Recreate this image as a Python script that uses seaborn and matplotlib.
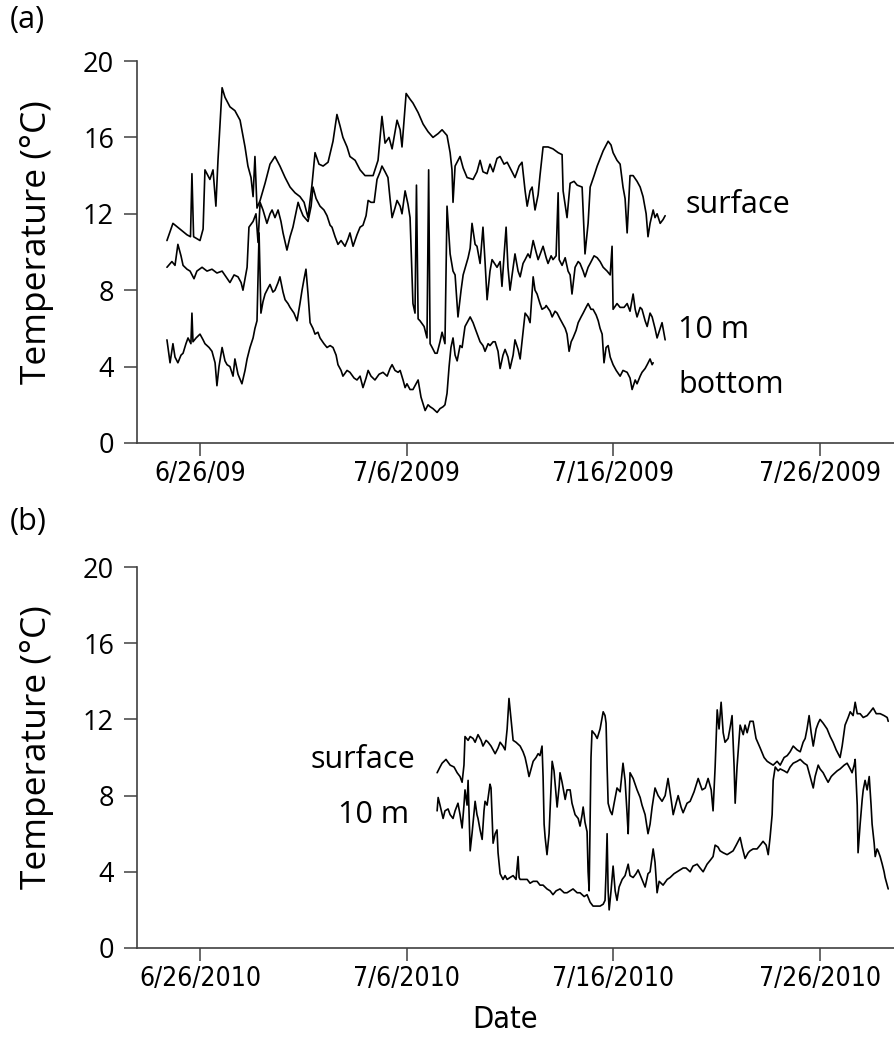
import numpy as np
import pandas as pd
import matplotlib
matplotlib.use("Agg")
import matplotlib.pyplot as plt
import seaborn as sns

# ---------------- data (days after 26 June, temperature in °C) ----------------
surf09_day = [-1.60,-1.31,-0.97,-0.63,-0.46,-0.39,-0.31,0.00,0.15,0.24,0.48,0.63,0.77,0.87,1.07,1.21,1.45,1.69,1.94,2.18,
              2.32,2.47,2.57,2.66,2.76,2.91,3.15,3.39,3.63,3.87,4.12,4.36,4.60,4.84,5.04,5.23,5.42,5.57,5.76,5.96,
              6.20,6.44,6.63,6.78,6.92,7.12,7.26,7.51,7.75,7.99,8.38,8.62,8.81,8.96,9.15,9.30,9.54,9.69,9.78,9.98,
              10.17,10.31,10.56,10.80,11.04,11.28,11.53,11.72,11.96,12.11,12.20,12.25,12.35,12.59,12.74,12.93,13.22,13.41,13.56,13.70,
              13.90,14.04,14.19,14.38,14.53,14.72,14.87,15.06,15.25,15.45,15.59,15.74,15.84,15.98,16.08,16.22,16.37,16.46,16.61,16.85,
              17.09,17.34,17.53,17.58,17.77,17.92,18.11,18.26,18.50,18.64,18.79,18.89,19.08,19.23,19.52,19.76,19.90,20.00,20.19,20.34,
              20.48,20.58,20.68,20.82,20.97,21.16,21.31,21.45,21.60,21.69,21.79,21.94,22.03,22.13,22.28,22.42,22.52]
surf09_temp = [10.6,11.5,11.2,10.9,10.8,14.1,10.8,10.6,11.2,14.3,13.8,14.3,12.4,14.8,18.6,18.1,17.6,17.4,16.9,15.5,
               14.5,13.9,12.9,15.0,12.3,12.7,13.6,14.6,15.0,14.5,13.9,13.4,13.1,12.9,12.6,11.8,13.5,15.2,14.6,14.5,
               14.7,15.8,17.2,16.6,16.0,15.5,15.0,14.8,14.3,14.0,14.0,14.8,17.1,15.7,16.0,15.4,16.9,16.4,15.5,18.3,
               18.0,17.8,17.3,16.7,16.3,16.0,16.2,16.4,16.1,15.2,14.3,12.6,14.5,15.0,14.4,13.9,13.8,14.2,14.8,14.2,
               14.1,14.6,14.2,14.9,15.0,14.6,14.7,14.3,13.9,14.5,14.7,13.2,12.4,13.2,13.4,12.2,13.0,14.0,15.5,15.5,
               15.4,15.2,15.1,13.2,11.8,13.6,13.7,13.5,13.4,9.9,11.5,13.4,14.0,14.5,15.3,15.8,15.6,15.2,14.8,14.6,
               13.4,12.8,11.0,14.0,14.0,13.7,13.4,12.9,12.0,10.8,11.5,12.2,11.8,12.0,11.5,11.7,11.9]

m10_09_day = [-1.60,-1.36,-1.21,-1.07,-0.92,-0.82,-0.63,-0.48,-0.29,-0.15,0.10,0.34,0.58,0.82,1.07,1.26,1.45,1.65,1.84,1.99,
              2.08,2.28,2.37,2.57,2.71,2.81,2.91,3.05,3.24,3.39,3.49,3.63,3.78,3.92,4.02,4.21,4.36,4.50,4.75,4.84,
              4.99,5.23,5.38,5.47,5.62,5.81,6.00,6.15,6.30,6.39,6.54,6.68,6.83,7.02,7.17,7.26,7.41,7.60,7.75,7.89,
              8.04,8.14,8.28,8.43,8.57,8.72,8.81,8.96,9.10,9.20,9.30,9.44,9.54,9.69,9.78,9.93,10.07,10.17,10.27,10.31,
              10.41,10.48,10.56,10.65,10.85,10.99,11.07,11.14,11.24,11.38,11.48,11.62,11.72,11.86,11.96,12.11,12.25,12.35,12.49,12.64,
              12.74,12.98,13.08,13.17,13.32,13.41,13.56,13.70,13.80,13.90,14.04,14.14,14.38,14.53,14.62,14.72,14.82,14.91,15.01,15.16,
              15.25,15.40,15.50,15.64,15.74,15.88,15.98,16.13,16.27,16.37,16.51,16.61,16.76,16.85,17.00,17.09,17.24,17.34,17.39,17.53,
              17.68,17.82,17.92,18.01,18.16,18.31,18.40,18.55,18.64,18.79,18.89,19.08,19.23,19.37,19.52,19.71,19.86,19.95,20.00,20.19,
              20.34,20.53,20.68,20.82,20.97,21.07,21.16,21.31,21.40,21.55,21.65,21.79,21.89,22.03,22.13,22.28,22.37,22.52]
m10_09_temp = [9.2,9.5,9.3,10.4,9.8,9.3,9.1,9.0,8.6,9.0,9.2,9.0,9.1,8.9,9.0,8.7,8.4,8.8,8.7,8.4,
               8.0,9.2,11.3,11.6,12.0,10.5,12.6,12.2,11.5,12.0,12.2,11.8,12.2,11.6,11.0,10.1,10.8,11.3,12.6,12.3,
               11.9,11.6,12.4,13.4,12.8,12.4,12.2,11.9,11.4,11.3,10.8,10.4,10.6,10.3,10.7,11.0,10.3,10.9,11.3,11.4,
               11.9,12.7,12.6,12.6,13.8,14.2,14.5,14.2,13.9,12.8,11.8,12.3,12.7,12.4,12.0,13.2,12.5,11.8,8.5,7.3,
               6.8,13.5,6.5,6.4,6.1,5.5,14.3,5.2,5.0,4.7,4.7,5.3,5.8,5.2,12.4,9.9,9.0,8.8,6.6,8.0,
               8.8,9.7,10.2,11.5,10.4,10.3,9.4,11.3,9.5,7.5,9.0,9.6,9.2,9.5,8.2,9.8,11.3,9.2,8.0,9.2,
               9.9,9.0,8.7,9.4,9.6,9.9,9.7,10.6,10.0,9.6,10.0,10.3,9.7,9.4,9.8,9.6,9.8,13.1,9.6,9.3,
               9.7,9.0,8.8,7.8,9.2,9.5,9.4,9.0,8.7,9.2,9.4,9.8,9.7,9.5,9.2,9.0,8.8,10.3,7.0,7.3,
               7.1,7.1,7.3,6.9,7.8,7.0,6.6,7.1,7.0,6.4,6.1,6.8,6.6,6.0,5.5,6.0,6.3,5.4]

bot09_day = [-1.60,-1.50,-1.45,-1.31,-1.21,-1.07,-0.92,-0.82,-0.68,-0.58,-0.44,-0.39,-0.34,-0.19,0.00,0.15,0.24,0.44,0.58,0.73,
             0.82,0.92,1.07,1.21,1.31,1.45,1.60,1.69,1.84,2.03,2.18,2.28,2.42,2.57,2.66,2.76,2.86,2.95,3.05,3.15,
             3.29,3.39,3.53,3.63,3.78,3.87,4.02,4.12,4.26,4.36,4.55,4.70,4.84,4.94,5.04,5.13,5.23,5.33,5.47,5.57,
             5.71,5.81,6.00,6.15,6.30,6.44,6.59,6.68,6.83,6.92,7.12,7.26,7.46,7.60,7.75,7.89,8.04,8.14,8.28,8.47,
             8.67,8.86,9.06,9.20,9.30,9.44,9.59,9.69,9.83,9.93,10.02,10.17,10.31,10.41,10.56,10.70,10.90,11.04,11.14,11.28,
             11.48,11.62,11.77,11.86,11.96,12.06,12.15,12.25,12.35,12.45,12.59,12.69,12.83,12.98,13.08,13.22,13.32,13.46,13.56,13.70,
             13.80,13.95,14.04,14.19,14.29,14.43,14.53,14.67,14.77,14.91,15.01,15.16,15.25,15.40,15.50,15.64,15.74,15.88,15.98,16.13,
             16.22,16.32,16.46,16.56,16.71,16.76,16.95,17.05,17.19,17.29,17.43,17.53,17.68,17.77,17.87,17.97,18.06,18.21,18.31,18.45,
             18.55,18.69,18.79,18.93,19.03,19.18,19.28,19.37,19.47,19.56,19.66,19.76,19.86,20.00,20.15,20.34,20.48,20.68,20.82,20.92,
             21.07,21.16,21.31,21.40,21.55,21.65,21.79,21.89,21.94]
bot09_temp = [5.4,4.6,4.2,5.2,4.5,4.2,4.6,4.7,5.2,5.5,5.2,6.8,5.3,5.5,5.7,5.4,5.2,5.0,4.8,4.2,
              3.0,4.0,5.0,4.3,4.1,4.0,3.5,4.4,3.6,3.1,3.8,4.4,5.0,5.5,6.0,6.4,11.0,6.8,7.4,7.8,
              8.1,8.3,7.9,8.0,8.4,8.7,7.9,7.5,7.3,7.1,6.8,6.4,7.3,8.0,8.6,9.1,7.8,6.3,6.0,5.7,
              5.8,5.5,5.2,5.0,5.1,5.0,4.6,4.1,3.8,3.5,3.8,3.7,3.4,3.3,3.5,2.9,3.4,3.8,3.5,3.3,
              3.6,3.7,3.5,3.9,4.1,3.8,3.7,3.8,3.3,2.9,3.1,2.8,2.8,3.0,3.3,2.4,1.7,2.0,1.9,1.8,
              1.6,1.8,1.9,2.0,2.6,4.0,5.0,5.5,4.6,4.3,5.1,5.0,6.1,6.4,6.6,6.3,6.0,5.6,5.3,5.1,
              4.8,5.2,5.1,5.3,5.3,4.8,3.9,4.6,4.9,4.5,3.9,4.6,5.4,4.9,4.4,5.8,6.8,6.6,6.3,8.7,
              8.0,7.8,7.3,7.0,7.1,7.2,6.9,6.6,6.9,6.8,6.5,6.3,6.0,5.7,4.8,5.3,5.5,5.9,6.3,6.6,
              6.8,7.1,7.3,7.0,7.0,6.7,6.4,6.0,5.7,4.2,5.0,5.1,4.5,4.1,3.8,3.5,3.8,3.7,3.4,2.8,
              3.3,3.1,3.5,3.7,3.9,4.1,4.4,4.1,4.2]

surf10_day = [11.48,11.62,11.72,11.91,12.11,12.30,12.45,12.59,12.69,12.78,12.83,12.98,13.08,13.22,13.32,13.46,13.61,13.70,13.85,13.95,
              14.09,14.29,14.43,14.53,14.67,14.77,14.87,14.96,15.06,15.16,15.30,15.50,15.64,15.74,15.84,15.93,16.03,16.13,16.27,16.37,
              16.46,16.56,16.61,16.66,16.71,16.80,16.90,17.00,17.05,17.14,17.24,17.29,17.39,17.43,17.53,17.68,17.77,17.92,18.01,18.16,
              18.31,18.40,18.50,18.55,18.64,18.74,18.79,18.84,18.89,18.93,18.98,19.13,19.23,19.37,19.52,19.61,19.66,19.71,19.76,19.86,
              19.95,20.05,20.19,20.34,20.48,20.58,20.68,20.73,20.82,20.97,21.16,21.31,21.40,21.55,21.69,21.79,21.89,22.03,22.18,22.37,
              22.52,22.66,22.81,22.91,23.05,23.15,23.29,23.39,23.58,23.73,23.92,24.12,24.31,24.46,24.60,24.75,24.84,24.94,25.04,25.13,
              25.23,25.33,25.42,25.57,25.67,25.76,25.86,25.91,26.00,26.15,26.30,26.39,26.49,26.63,26.78,26.92,27.12,27.31,27.46,27.60,
              27.75,27.94,28.09,28.28,28.43,28.57,28.72,28.91,29.06,29.20,29.30,29.39,29.49,29.59,29.69,29.83,29.93,30.02,30.17,30.36,
              30.51,30.65,30.80,30.99,31.09,31.23,31.38,31.48,31.62,31.72,31.82,31.96,32.11,32.30,32.45,32.59,32.74,32.93,33.12,33.27,
              33.32]
surf10_temp = [9.2,9.5,9.7,9.9,9.6,9.5,9.2,9.0,8.7,9.6,11.1,10.9,11.1,11.0,10.8,11.2,10.9,10.6,10.9,10.8,
               10.6,10.2,10.5,10.8,10.6,10.4,11.5,13.1,12.0,10.9,10.8,10.6,10.3,10.0,9.5,9.0,9.4,9.8,10.0,10.2,
               10.1,10.6,9.0,6.5,5.8,4.9,6.0,8.5,9.8,9.3,8.0,7.4,8.5,9.2,8.7,7.8,8.3,8.3,7.6,7.0,
               6.8,6.4,7.0,7.4,6.6,6.1,4.0,3.0,7.0,10.0,11.4,11.2,11.0,11.5,12.4,12.2,11.8,9.5,7.6,7.2,
               7.0,7.6,8.4,8.2,9.7,8.8,7.0,6.0,9.2,8.9,8.3,7.9,7.5,7.0,6.0,6.5,7.4,8.4,8.0,7.7,
               8.0,8.9,7.8,7.0,7.6,8.0,7.4,7.1,7.6,7.7,8.2,8.9,8.3,8.4,8.9,8.3,7.2,9.5,12.5,11.5,
               12.9,11.3,10.8,11.0,11.6,12.2,9.5,7.6,9.5,11.7,11.2,11.7,11.3,11.9,11.9,11.0,10.5,10.0,9.8,9.7,
               9.6,9.8,9.6,10.0,10.1,10.3,10.6,10.4,10.3,10.8,11.0,11.5,12.2,11.3,10.6,11.5,11.8,12.0,11.8,11.5,
               11.1,10.8,10.4,10.0,10.6,11.7,12.1,12.4,12.2,12.9,12.3,12.3,12.1,12.2,12.4,12.6,12.3,12.3,12.2,12.1,
               11.9]

m10_10_day = [11.48,11.53,11.62,11.77,11.86,12.01,12.11,12.25,12.35,12.49,12.59,12.69,12.78,12.83,12.93,12.98,13.08,13.17,13.32,13.41,
              13.46,13.56,13.66,13.75,13.80,13.90,14.04,14.09,14.19,14.29,14.38,14.43,14.53,14.67,14.77,14.87,15.01,15.16,15.30,15.40,
              15.45,15.50,15.69,15.84,15.98,16.13,16.32,16.46,16.61,16.80,16.95,17.09,17.24,17.43,17.63,17.77,17.92,18.06,18.26,18.40,
              18.60,18.74,18.89,19.03,19.23,19.37,19.52,19.61,19.66,19.71,19.76,19.81,19.90,20.00,20.10,20.19,20.29,20.44,20.58,20.73,
              20.82,20.97,21.11,21.21,21.36,21.55,21.69,21.79,21.89,21.94,22.03,22.13,22.23,22.42,22.62,22.76,22.95,23.10,23.24,23.39,
              23.53,23.73,23.87,24.07,24.21,24.36,24.55,24.70,24.84,24.94,25.08,25.18,25.33,25.52,25.67,25.81,25.96,26.15,26.25,26.39,
              26.54,26.63,26.78,26.97,27.12,27.26,27.41,27.51,27.60,27.70,27.75,27.85,27.99,28.09,28.28,28.43,28.57,28.72,28.91,29.06,
              29.25,29.39,29.54,29.69,29.78,29.93,30.02,30.17,30.31,30.41,30.56,30.65,30.85,30.99,31.19,31.33,31.48,31.57,31.67,31.72,
              31.82,31.86,31.96,32.06,32.11,32.20,32.30,32.40,32.49,32.54,32.64,32.69,32.78,32.83,32.93,33.03,33.12,33.17,33.27,33.32]
m10_10_temp = [7.2,7.9,7.5,6.8,7.2,7.3,7.0,6.8,7.2,7.6,7.0,6.3,7.5,8.3,7.5,8.8,5.1,6.0,7.7,7.0,
               6.8,6.2,5.7,7.2,7.7,7.5,8.6,8.4,5.5,6.0,6.2,5.0,3.9,3.6,3.8,3.6,3.7,3.8,3.6,4.8,
               3.7,3.6,3.6,3.6,3.4,3.5,3.5,3.3,3.3,3.1,3.0,2.8,3.0,3.1,2.9,2.9,3.0,3.1,2.9,2.9,
               2.7,2.8,2.4,2.2,2.2,2.2,2.3,2.5,4.0,6.0,3.0,2.0,3.0,4.3,3.0,2.5,3.2,3.6,3.8,4.4,
               3.8,3.7,3.9,4.1,3.7,3.2,3.9,4.0,4.8,5.2,4.5,2.9,3.5,3.3,3.6,3.7,3.9,4.0,4.1,4.2,
               4.2,4.0,4.3,4.4,4.2,4.0,4.4,4.6,4.8,5.4,5.3,5.1,5.0,4.9,5.0,5.1,5.4,5.8,5.3,4.7,
               5.0,5.1,5.2,5.2,5.4,5.6,5.4,4.9,5.8,7.0,8.8,9.5,9.3,9.4,9.3,9.2,9.5,9.7,9.8,9.9,
               9.7,9.6,9.0,8.4,9.0,9.6,9.4,9.2,8.9,8.7,9.0,9.1,9.3,9.4,9.6,9.7,9.4,9.2,9.6,9.9,
               7.5,5.0,6.5,7.8,8.3,8.8,8.3,9.0,7.5,6.5,5.5,4.8,5.2,5.1,4.8,4.4,4.0,3.7,3.3,3.1]

tick_dates_09 = ["2009-06-26", "2009-07-06", "2009-07-16", "2009-07-26"]
tick_labels_09 = ["6/26/09", "7/6/2009", "7/16/2009", "7/26/2009"]
tick_dates_10 = ["2010-06-26", "2010-07-06", "2010-07-16", "2010-07-26"]
tick_labels_10 = ["6/26/2010", "7/6/2010", "7/16/2010", "7/26/2010"]
y_ticks = [0, 4, 8, 12, 16, 20]


def to_frame(base, days, temps):
    return pd.DataFrame({
        "date": pd.Timestamp(base) + pd.to_timedelta(np.array(days), unit="D"),
        "temp": temps,
    })


sns.set_style("white")
plt.rcParams["font.family"] = ["Open Sans", "DejaVu Sans"]
plt.rcParams["text.color"] = "black"
plt.rcParams["axes.labelcolor"] = "black"
plt.rcParams["xtick.color"] = "black"
plt.rcParams["ytick.color"] = "black"

W, H = 894, 1045
fig = plt.figure(figsize=(W / 100, H / 100), dpi=100)

def axes_from_px(left, top, right, bottom):
    return fig.add_axes([left / W, 1 - bottom / H, (right - left) / W, (bottom - top) / H])

ax_a = axes_from_px(137, 61, 894, 443)
ax_b = axes_from_px(137, 567, 894, 948)

narrow = dict(family="DejaVu Sans", stretch="condensed")
spine_col = "#404040"

panels = [
    (ax_a, "2009-06-26", [(surf09_day, surf09_temp), (m10_09_day, m10_09_temp), (bot09_day, bot09_temp)],
     tick_dates_09, tick_labels_09),
    (ax_b, "2010-06-26", [(surf10_day, surf10_temp), (m10_10_day, m10_10_temp)],
     tick_dates_10, tick_labels_10),
]

for ax, base, series, tdates, tlabels in panels:
    for d, t in series:
        sns.lineplot(data=to_frame(base, d, t), x="date", y="temp", ax=ax,
                     color="black", linewidth=1.2, estimator=None, sort=False)
    b = pd.Timestamp(base)
    ax.set_xlim(b + pd.to_timedelta(-3.05, unit="D"), b + pd.to_timedelta(33.6, unit="D"))
    ax.set_ylim(0, 20)
    ax.set_yticks(y_ticks)
    ax.set_yticklabels([str(v) for v in y_ticks], fontsize=19.5)
    ax.set_xticks([pd.Timestamp(s) for s in tdates])
    ax.set_xticklabels(tlabels, fontsize=19, **narrow)
    ax.tick_params(axis="y", direction="out", length=9.5, width=1.1, color=spine_col, pad=7, left=True)
    ax.tick_params(axis="x", direction="out", length=9, width=1.1, color=spine_col, pad=4, bottom=True)
    for side in ["top", "right"]:
        ax.spines[side].set_visible(False)
    for side in ["left", "bottom"]:
        ax.spines[side].set_color(spine_col)
        ax.spines[side].set_linewidth(1.2)
    ax.set_xlabel("")
    ax.set_ylabel("Temperature (°C)", fontsize=25.5)
    ax.yaxis.set_label_coords(-0.11, 0.526)
    ax.set_facecolor("white")

# series labels
fs_lab = 22
ax_a.text(0.724, 0.623, "surface", transform=ax_a.transAxes, fontsize=fs_lab, va="center", ha="left")
ax_a.text(0.715, 0.297, "10 m", transform=ax_a.transAxes, fontsize=fs_lab, va="center", ha="left")
ax_a.text(0.715, 0.152, "bottom", transform=ax_a.transAxes, fontsize=fs_lab, va="center", ha="left")
ax_b.text(0.367, 0.493, "surface", transform=ax_b.transAxes, fontsize=fs_lab, va="center", ha="right")
ax_b.text(0.360, 0.348, "10 m", transform=ax_b.transAxes, fontsize=fs_lab, va="center", ha="right")

fig.text(10 / W, 1 - 20 / H, "(a)", fontsize=22, va="center", ha="left")
fig.text(10 / W, 1 - 522 / H, "(b)", fontsize=22, va="center", ha="left")
fig.text(505 / W, 1 - 1020 / H, "Date", fontsize=22, va="center", ha="center", **narrow)

fig.savefig("out.png", dpi=100, facecolor="white")
